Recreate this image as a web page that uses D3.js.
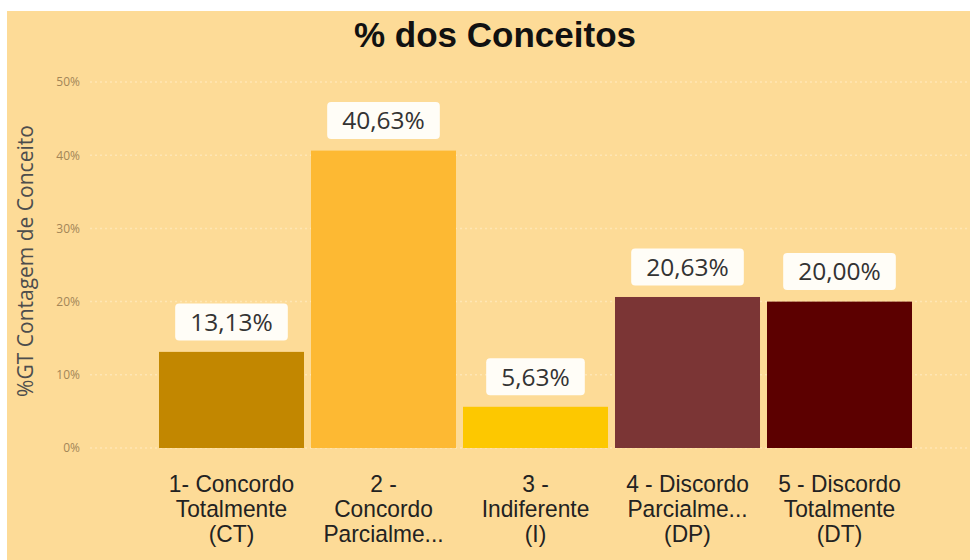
<!DOCTYPE html>
<html>
<head>
<meta charset="utf-8">
<script src="https://cdn.jsdelivr.net/npm/d3@7"></script>
<style>
  html, body { margin: 0; padding: 0; background: #fff; }
  svg { display: block; }
</style>
</head>
<body>
<svg id="chart" width="970" height="560"></svg>
<script>
// Dados do gráfico
const categorias = [
  ["1- Concordo", "Totalmente", "(CT)"],
  ["2 -", "Concordo", "Parcialme..."],
  ["3 -", "Indiferente", "(I)"],
  ["4 - Discordo", "Parcialme...", "(DP)"],
  ["5 - Discordo", "Totalmente", "(DT)"]
];
const valores = [13.13, 40.63, 5.63, 20.63, 20.00];
const rotulos = ["13,13%", "40,63%", "5,63%", "20,63%", "20,00%"];
const ticksY = [0, 10, 20, 30, 40, 50];
const cores = ["#c28700", "#fdb933", "#fdc800", "#7b3535", "#5c0000"];

const svg = d3.select("#chart");

// fundo
svg.append("rect")
   .attr("x", 7).attr("y", 11)
   .attr("width", 963).attr("height", 549)
   .attr("fill", "#fddb97");

const x = d3.scaleBand()
            .domain(d3.range(valores.length))
            .range([155.5, 915.5])
            .paddingInner(0.046)
            .paddingOuter(0.023);

const y = d3.scaleLinear()
            .domain([0, 50])
            .range([448, 82]);

// linhas de grade
svg.append("g")
   .selectAll("line")
   .data(ticksY)
   .enter()
   .append("line")
   .attr("x1", 90).attr("x2", 968)
   .attr("y1", d => y(d)).attr("y2", d => y(d))
   .attr("stroke", "#ffe6b4")
   .attr("stroke-width", 1.5)
   .attr("stroke-dasharray", "2,3");

// eixo Y
const eixoY = svg.append("g")
   .attr("transform", "translate(80,0)")
   .call(d3.axisLeft(y).tickValues(ticksY).tickSize(0).tickPadding(0).tickFormat(d => d + "%"));
eixoY.select(".domain").remove();
eixoY.selectAll("text")
     .attr("font-family", "'Open Sans', sans-serif")
     .attr("font-size", 12)
     .attr("fill", "#a38657");

// título do eixo Y
svg.append("text")
   .attr("transform", "translate(33,261) rotate(-90)")
   .attr("text-anchor", "middle")
   .attr("font-family", "'Open Sans', sans-serif")
   .attr("font-size", 21)
   .attr("fill", "#4d4d4d")
   .text("%GT Contagem de Conceito");

// barras
svg.append("g")
   .selectAll("rect")
   .data(valores)
   .enter()
   .append("rect")
   .attr("x", (d, i) => x(i))
   .attr("y", d => y(d))
   .attr("width", x.bandwidth())
   .attr("height", d => y(0) - y(d))
   .attr("fill", (d, i) => cores[i]);

// rótulos de dados
const rot = svg.append("g")
   .selectAll("g")
   .data(valores)
   .enter()
   .append("g")
   .attr("transform", (d, i) => `translate(${x(i) + x.bandwidth() / 2}, ${y(d) - 30})`);

const caixas = rot.append("rect")
   .attr("y", -18.5)
   .attr("height", 37)
   .attr("rx", 4)
   .attr("fill", "#fffdf7");

const textos = rot.append("text")
   .attr("text-anchor", "middle")
   .attr("dy", "0.36em")
   .attr("font-family", "'Open Sans', sans-serif")
   .attr("font-size", 24.5)
   .attr("fill", "#333")
   .text((d, i) => rotulos[i]);

textos.each(function (d, i) {
  const w = this.getComputedTextLength() + 30;
  d3.select(caixas.nodes()[i]).attr("x", -w / 2).attr("width", w);
});

// rótulos do eixo X (fonte estreita)
const rotX = svg.append("g")
   .selectAll("text")
   .data(categorias)
   .enter()
   .append("text")
   .attr("transform", (d, i) => `translate(${x(i) + x.bandwidth() / 2}, 492) scale(0.93, 1)`)
   .attr("text-anchor", "middle")
   .attr("font-family", "'Liberation Sans', Arial, sans-serif")
   .attr("font-size", 24.5)
   .attr("fill", "#222");

rotX.selectAll("tspan")
    .data(d => d)
    .enter()
    .append("tspan")
    .attr("x", 0)
    .attr("dy", (d, i) => i === 0 ? 0 : 25)
    .text(d => d);

// título
svg.append("text")
   .attr("x", 495)
   .attr("y", 47)
   .attr("text-anchor", "middle")
   .attr("font-family", "'Liberation Sans', Arial, sans-serif")
   .attr("font-weight", "bold")
   .attr("font-size", 35)
   .attr("fill", "#111")
   .text("% dos Conceitos");
</script>
</body>
</html>
